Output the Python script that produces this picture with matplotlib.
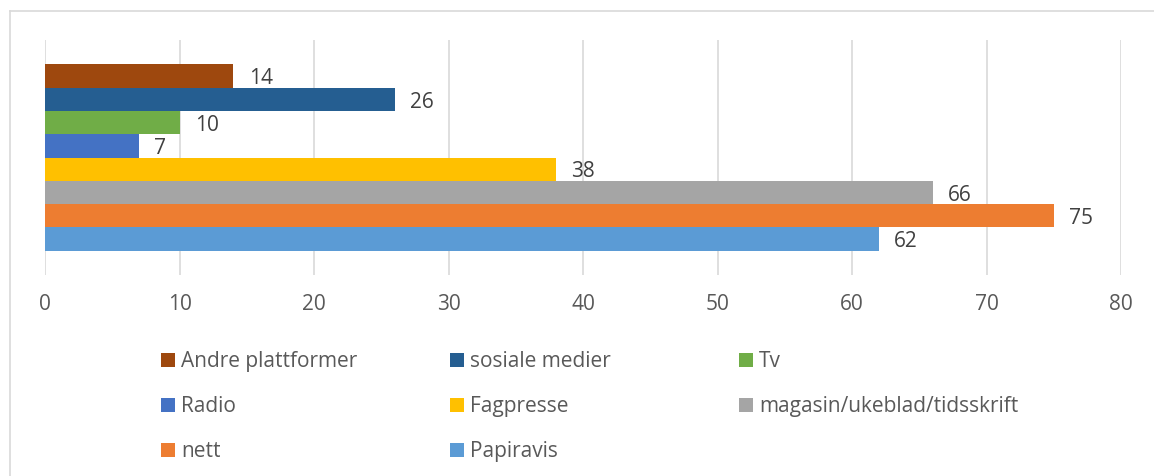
import matplotlib.pyplot as plt
from matplotlib.patches import Rectangle
from matplotlib.lines import Line2D

# series, bottom to top as drawn
series = ['Papiravis', 'nett', 'magasin/ukeblad/tidsskrift', 'Fagpresse',
          'Radio', 'Tv', 'sosiale medier', 'Andre plattformer']
values = [62, 75, 66, 38, 7, 10, 26, 14]
colors = ['#5B9BD5', '#ED7D31', '#A5A5A5', '#FFC000',
          '#4472C4', '#70AD47', '#255E91', '#9E480E']
xticks = [0, 10, 20, 30, 40, 50, 60, 70, 80]

plt.rcParams['font.family'] = ['Open Sans', 'DejaVu Sans']

W, H = 1154, 476
fig = plt.figure(figsize=(W / 100, H / 100), dpi=100)
ax = fig.add_axes([45 / W, 1 - 275 / H, 1076 / W, 235 / H])

pos = list(range(len(series)))
ax.barh(pos, values, height=1.0, color=colors, zorder=2)

for p, v in zip(pos, values):
    ax.annotate(str(v), (v, p), xytext=(11, -2), textcoords='offset points',
                va='center', ha='left', fontsize=15, color='#404040')

ax.set_xlim(0, 80)
ax.set_ylim(-1.55, 8.55)
ax.set_xticks(xticks)
ax.set_yticks([])
ax.tick_params(axis='x', length=0, pad=14, labelsize=15, labelcolor='#595959')
ax.grid(axis='x', color='#D9D9D9', linewidth=1.2, zorder=0)
for s in ax.spines.values():
    s.set_visible(False)

# legend laid out like Excel: row by row, 3 columns
leg_order = [7, 6, 5, 4, 3, 2, 1, 0]
col_x = [161, 450, 739]
row_y = [360, 405, 450]
sq = 14
for k, i in enumerate(leg_order):
    x = col_x[k % 3]
    y = row_y[k // 3]
    fig.add_artist(Rectangle((x / W, 1 - (y + sq / 2) / H), sq / W, sq / H,
                             transform=fig.transFigure, facecolor=colors[i],
                             edgecolor='none'))
    fig.text((x + sq + 6) / W, 1 - (y + sq / 2) / H, series[i], fontsize=15,
             color='#595959', va='baseline', ha='left')

# chart frame
fig.add_artist(Line2D([10 / W, 10 / W], [0, 1 - 11 / H],
                      transform=fig.transFigure, color='#D9D9D9', lw=1.2))
fig.add_artist(Line2D([10 / W, 1], [1 - 11 / H, 1 - 11 / H],
                      transform=fig.transFigure, color='#D9D9D9', lw=1.2))

fig.savefig('out.png', dpi=100)
